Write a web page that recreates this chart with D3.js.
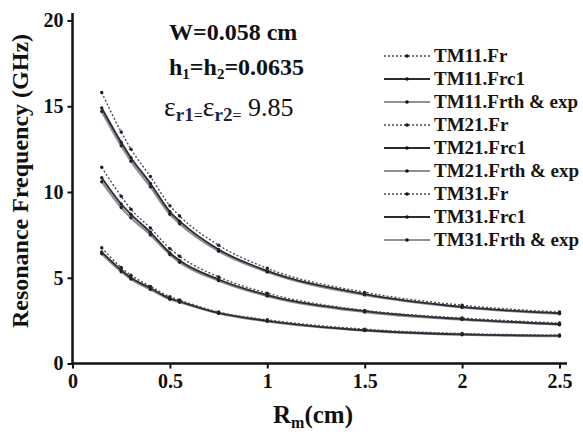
<!DOCTYPE html>
<html>
<head>
<meta charset="utf-8">
<script src="https://cdn.jsdelivr.net/npm/d3@7"></script>
<style>
  body { margin: 0; background: #fff; }
  svg text { font-family: 'Liberation Serif', 'Tinos', 'Times New Roman', 'DejaVu Serif', serif; font-weight: bold; }
</style>
</head>
<body>
<svg width="583" height="434"></svg>
<script>
// values
const rm = [0.15, 0.25, 0.3, 0.4, 0.5, 0.55, 0.75, 1, 1.5, 2, 2.5];

const tm11Fr   = [6.75, 5.6, 5.15, 4.5, 3.9, 3.7, 3.0, 2.55, 2.0, 1.75, 1.66];
const tm11Frc1 = [6.5, 5.45, 5.0, 4.4, 3.8, 3.62, 2.95, 2.49, 1.94, 1.7, 1.62];
const tm11Frth = [6.4, 5.35, 4.92, 4.32, 3.75, 3.57, 2.92, 2.46, 1.92, 1.68, 1.6];

const tm21Fr   = [11.44, 9.75, 9.0, 7.9, 6.7, 6.25, 5.05, 4.1, 3.1, 2.65, 2.36];
const tm21Frc1 = [10.83, 9.3, 8.7, 7.65, 6.45, 6.0, 4.9, 3.99, 3.05, 2.59, 2.29];
const tm21Frth = [10.6, 9.1, 8.5, 7.5, 6.35, 5.9, 4.83, 3.93, 3.0, 2.56, 2.26];

const tm31Fr   = [15.8, 13.5, 12.5, 10.9, 9.2, 8.6, 6.9, 5.55, 4.15, 3.4, 3.0];
const tm31Frc1 = [14.9, 12.9, 12.0, 10.5, 8.85, 8.3, 6.65, 5.4, 4.05, 3.3, 2.93];
const tm31Frth = [14.7, 12.7, 11.8, 10.3, 8.7, 8.15, 6.55, 5.33, 4.0, 3.27, 2.9];

const xTicks = [0, 0.5, 1, 1.5, 2, 2.5];
const yTicks = [0, 5, 10, 15, 20];

const svg = d3.select('svg');

const xEscala = d3.scaleLinear().domain([0, 2.5]).range([72.5, 559.5]);
const yEscala = d3.scaleLinear().domain([0, 20]).range([363.5, 20.5]);

// estilos por tipo de curva
const estilos = {
    Fr:   {stroke: '#4a4a55', width: 1.4, dash: '2,2'},
    Frc1: {stroke: '#2a2a30', width: 1.8, dash: null},
    Frth: {stroke: '#8c8c98', width: 2.2, dash: null}
};

const series = [
    {nome: 'TM11.Fr', tipo: 'Fr', v: tm11Fr},
    {nome: 'TM11.Frc1', tipo: 'Frc1', v: tm11Frc1},
    {nome: 'TM11.Frth & exp', tipo: 'Frth', v: tm11Frth},
    {nome: 'TM21.Fr', tipo: 'Fr', v: tm21Fr},
    {nome: 'TM21.Frc1', tipo: 'Frc1', v: tm21Frc1},
    {nome: 'TM21.Frth & exp', tipo: 'Frth', v: tm21Frth},
    {nome: 'TM31.Fr', tipo: 'Fr', v: tm31Fr},
    {nome: 'TM31.Frc1', tipo: 'Frc1', v: tm31Frc1},
    {nome: 'TM31.Frth & exp', tipo: 'Frth', v: tm31Frth}
];

// eixos
const gx = svg.append('g')
    .attr('transform', `translate(0,${yEscala(0)})`)
    .call(d3.axisBottom(xEscala).tickValues(xTicks).tickSize(5).tickPadding(5).tickFormat(d3.format('')));
const gy = svg.append('g')
    .attr('transform', `translate(${xEscala(0)},0)`)
    .call(d3.axisLeft(yEscala).tickValues(yTicks).tickSize(5).tickPadding(4));

[gx, gy].forEach(g => {
    g.attr('font-family', null).attr('font-size', null);
    g.select('.domain').remove();
    g.selectAll('line').attr('stroke', '#111').attr('stroke-width', 2);
    g.selectAll('text').attr('fill', '#111').style('font-size', '20px');
});

svg.append('line')
    .attr('x1', xEscala(0) - 1).attr('x2', 567)
    .attr('y1', yEscala(0)).attr('y2', yEscala(0))
    .attr('stroke', '#111').attr('stroke-width', 2.5);
svg.append('line')
    .attr('x1', xEscala(0)).attr('x2', xEscala(0))
    .attr('y1', 13).attr('y2', yEscala(0) + 1)
    .attr('stroke', '#111').attr('stroke-width', 2.5);

// curvas
const linha = d3.line()
    .x((d, i) => xEscala(rm[i]))
    .y(d => yEscala(d))
    .curve(d3.curveMonotoneX);

// desenha Frth primeiro, depois Frc1, depois Fr por cima
const ordem = ['Frth', 'Frc1', 'Fr'];
ordem.forEach(tipo => {
    series.filter(s => s.tipo === tipo).forEach(s => {
        const e = estilos[s.tipo];
        svg.append('path')
            .attr('d', linha(s.v))
            .attr('fill', 'none')
            .attr('stroke', e.stroke)
            .attr('stroke-width', e.width)
            .attr('stroke-dasharray', e.dash);
        svg.append('g').selectAll('circle').data(s.v)
            .enter().append('circle')
                .attr('cx', (d, i) => xEscala(rm[i]))
                .attr('cy', d => yEscala(d))
                .attr('r', 1.7)
                .attr('fill', '#222');
    });
});

// legenda
const leg = svg.append('g');
series.forEach((s, i) => {
    const y = 56 + i * 23;
    const e = estilos[s.tipo];
    leg.append('line')
        .attr('x1', 384).attr('x2', 430).attr('y1', y).attr('y2', y)
        .attr('stroke', s.tipo === 'Frth' ? '#222' : e.stroke)
        .attr('stroke-width', s.tipo === 'Frc1' ? 2 : (s.tipo === 'Frth' ? 1 : 1.6))
        .attr('stroke-dasharray', e.dash);
    leg.append('circle').attr('cx', 407).attr('cy', y).attr('r', 1.8).attr('fill', '#111');
    leg.append('text')
        .attr('x', 434).attr('y', y + 6)
        .style('font-size', '19px')
        .attr('fill', '#1a1410')
        .text(s.nome);
});

// parametros
svg.append('text').attr('x', 169).attr('y', 40)
    .style('font-size', '24px').attr('fill', '#111')
    .text('W=0.058 cm');

const h = svg.append('text').attr('x', 169).attr('y', 75)
    .style('font-size', '24px').attr('fill', '#111');
h.append('tspan').text('h');
h.append('tspan').attr('dy', 4).style('font-size', '15px').text('1');
h.append('tspan').attr('dy', -4).text('=h');
h.append('tspan').attr('dy', 4).style('font-size', '15px').text('2');
h.append('tspan').attr('dy', -4).text('=0.0635');

const eps = svg.append('text').attr('x', 164).attr('y', 116)
    .style('font-size', '28px').style('font-weight', 'normal').attr('fill', '#111');
eps.append('tspan').text('ε');
eps.append('tspan').attr('dy', 5).style('font-size', '19px').style('font-weight', 'bold').attr('fill', '#1c2448').text('r1');
eps.append('tspan').style('font-size', '16px').text('=');
eps.append('tspan').attr('dy', -5).text('ε');
eps.append('tspan').attr('dy', 5).style('font-size', '19px').style('font-weight', 'bold').attr('fill', '#1c2448').text('r2');
eps.append('tspan').style('font-size', '16px').text('=');
eps.append('tspan').attr('dy', -5).style('font-size', '26px').text(' 9.85');

// titulos dos eixos
const xl = svg.append('text')
    .attr('x', 313).attr('y', 423)
    .attr('text-anchor', 'middle')
    .style('font-size', '25px').attr('fill', '#111');
xl.append('tspan').text('R');
xl.append('tspan').attr('dy', 5).style('font-size', '16px').text('m');
xl.append('tspan').attr('dy', -5).text('(cm)');

svg.append('text')
    .attr('transform', 'translate(28,181) rotate(-90)')
    .attr('text-anchor', 'middle')
    .style('font-size', '24px').attr('fill', '#111')
    .text('Resonance Frequency (GHz)');
</script>
</body>
</html>
